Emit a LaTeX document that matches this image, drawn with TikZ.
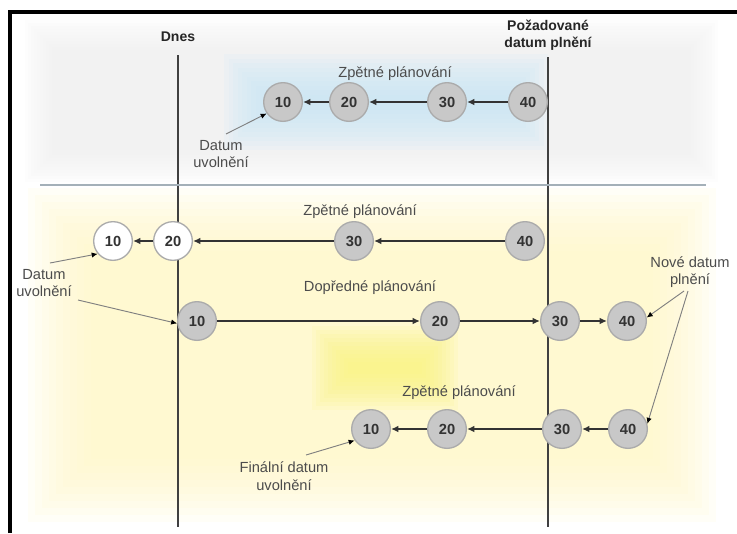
\documentclass[tikz,border=0pt]{standalone}
\usepackage{fontspec}
\setmainfont{Liberation Sans}
\usetikzlibrary{arrows.meta}

\definecolor{circfill}{HTML}{C8C8C8}
\definecolor{circrim}{HTML}{ABABAB}
\definecolor{linkcol}{HTML}{333333}
\definecolor{axiscol}{HTML}{404040}
\definecolor{textcol}{HTML}{4C4C4C}
\definecolor{pointercol}{HTML}{808080}
\definecolor{sepcol}{HTML}{A4B0B8}
\definecolor{panelgrey}{HTML}{F2F2F2}
\definecolor{glowblue}{HTML}{C6E7FB}
\definecolor{paleyellow}{HTML}{FFF9C4}
\definecolor{brightyellow}{HTML}{FAF47A}

% soft-edged rectangle: colour, x1, y1, x2, y2, inset per layer
\newcommand\softrect[6]{%
  \foreach \k in {0,...,9}{%
    \fill[#1, opacity=0.12] ({#2+\k*#6},{#3+\k*#6}) rectangle ({#4-\k*#6},{#5-\k*#6});
  }}

\tikzset{
  op/.style={circle, minimum size=29pt, inner sep=0pt, fill=circfill, draw=circrim,
    line width=1pt, text=black!80, font=\bfseries\fontsize{11}{11}\selectfont},
  opfree/.style={op, fill=white},
  link/.style={draw=linkcol, line width=1.5pt, -{Latex[length=5.5pt,width=5pt]}},
  pointer/.style={draw=pointercol, line width=0.7pt, -{Latex[length=4.5pt,width=4pt,black]}},
  axis/.style={draw=axiscol, line width=1.5pt},
  lbl/.style={text=textcol, align=center, font=\fontsize{11}{13}\selectfont},
  head/.style={text=black!85, align=center, font=\bfseries\fontsize{10.5}{13}\selectfont},
}

\begin{document}
\begin{tikzpicture}[x=0.75pt, y=-0.75pt]
\useasboundingbox (0,0) rectangle (737,533);
\fill[white] (0,0) rectangle (737,533);

% background panels
\softrect{panelgrey}{25}{20}{718}{182}{3}
\softrect{glowblue}{224}{54}{548}{150}{4.5}
\softrect{paleyellow}{28}{188}{716}{522}{7}
\softrect{brightyellow}{312}{326}{458}{410}{4}

% frame
\draw[line width=2.3pt] (10,533) -- (10,12) -- (737,12);

% time axes and separator
\node[head] (dnes) at (178,37) {Dnes};
\node[head] (pozad) at (548,35) {Požadované\\datum plnění};
\coordinate (dnesTop) at (178,55);
\coordinate (dnesBot) at (178,527);
\coordinate (pozTop) at (548,57);
\coordinate (pozBot) at (548,527);
\draw[axis] (dnesTop) -- (dnesBot);
\draw[axis] (pozTop) -- (pozBot);
\coordinate (sepL) at (40,185);
\coordinate (sepR) at (706,185);
\draw[draw=sepcol, line width=1.2pt] (sepL) -- (sepR);

% top: backward scheduling
\node[lbl] (zp1) at (395,74) {Zpětné plánování};
\node[op] (t10) at (283,102) {10};
\node[op] (t20) at (349,102) {20};
\node[op] (t30) at (447,102) {30};
\node[op] (t40) at (528,102) {40};
\draw[link] (t40) -- (t30);
\draw[link] (t30) -- (t20);
\draw[link] (t20) -- (t10);
\node[lbl] (du1) at (221,154) {Datum\\uvolnění};
\coordinate (du1p) at (226,134);
\draw[pointer] (du1p) -- (t10.215);

% row 2: backward scheduling past today
\node[lbl] (zp2) at (360,212) {Zpětné plánování};
\node[opfree] (a10) at (113,241) {10};
\node[opfree] (a20) at (173,241) {20};
\node[op] (a30) at (354,241) {30};
\node[op] (a40) at (525,241) {40};
\draw[link] (a40) -- (a30);
\draw[link] (a30) -- (a20);
\draw[link] (a20) -- (a10);
\node[lbl] (du2) at (44,283) {Datum\\uvolnění};
\coordinate (du2p) at (50,263);
\coordinate (du2q) at (78,300);
\draw[pointer] (du2p) -- (a10.220);

% row 3: forward scheduling
\node[lbl] (dp) at (370,288) {Dopředné plánování};
\node[op] (b10) at (197,321) {10};
\node[op] (b20) at (440,321) {20};
\node[op] (b30) at (560,321) {30};
\node[op] (b40) at (627,321) {40};
\draw[link] (b10) -- (b20);
\draw[link] (b20) -- (b30);
\draw[link] (b30) -- (b40);
\draw[pointer] (du2q) -- (b10.187);

% row 4: final backward scheduling
\node[lbl] (zp3) at (459,393) {Zpětné plánování};
\node[op] (c10) at (371,429) {10};
\node[op] (c20) at (447,429) {20};
\node[op] (c30) at (562,429) {30};
\node[op] (c40) at (628,429) {40};
\draw[link] (c40) -- (c30);
\draw[link] (c30) -- (c20);
\draw[link] (c20) -- (c10);
\node[lbl] (fdu) at (284,476) {Finální datum\\uvolnění};
\coordinate (fdup) at (306,455);
\draw[pointer] (fdup) -- (c10.215);

% new due date
\node[lbl] (nd) at (690,272) {Nové datum\\plnění};
\coordinate (ndp1) at (684,291);
\coordinate (ndp2) at (688,291);
\draw[pointer] (ndp1) -- (b40.10);
\draw[pointer] (ndp2) -- (c40.15);
\end{tikzpicture}
\end{document}
